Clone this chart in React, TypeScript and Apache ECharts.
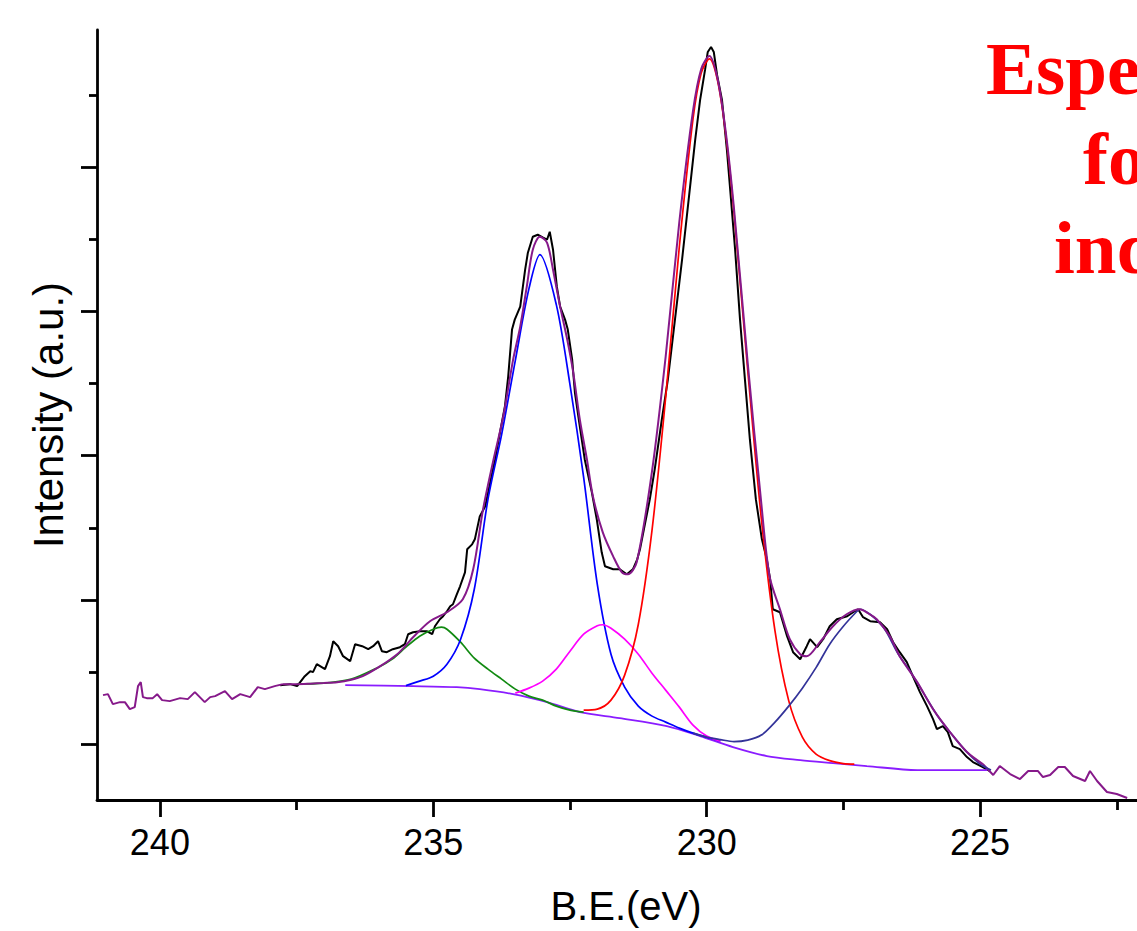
import React, { useEffect, useRef } from "react";
import * as echarts from "echarts";

// ---- axis ticks ----
const xMajorTicks = [240, 235, 230, 225];
const xMinorTicks = [237.5, 232.5, 227.5, 222.5];
const yMajorTicks = [560, 2004, 3448, 4892, 6336];
const yMinorTicks = [1282, 2726, 4170, 5614, 7058];

// ---- measured spectrum (black) ----
const rawData: [number, number][] = [
  [237.8, 1150], [237.62, 1160], [237.49, 1140], [237.35, 1240], [237.25, 1290], [237.2, 1280],
  [237.13, 1360], [237.04, 1330], [236.98, 1310], [236.89, 1440], [236.83, 1590], [236.74, 1540],
  [236.65, 1440], [236.52, 1390], [236.43, 1560], [236.3, 1540], [236.19, 1510], [236.1, 1540],
  [236.01, 1590], [235.94, 1490], [235.85, 1480], [235.74, 1510], [235.61, 1530], [235.52, 1560],
  [235.46, 1660], [235.37, 1680], [235.24, 1690], [235.12, 1690], [235.02, 1660], [234.97, 1740],
  [234.88, 1810], [234.82, 1840], [234.75, 1890], [234.69, 1940], [234.64, 1960], [234.57, 2060],
  [234.51, 2140], [234.42, 2280], [234.38, 2510], [234.29, 2560], [234.24, 2610], [234.15, 2840],
  [234.05, 2940], [233.96, 3180], [233.87, 3410], [233.78, 3680], [233.69, 3940], [233.63, 4240],
  [233.56, 4710], [233.51, 4810], [233.41, 4940], [233.32, 5310], [233.27, 5480], [233.18, 5640],
  [233.09, 5660], [232.99, 5630], [232.92, 5610], [232.87, 5690], [232.81, 5510], [232.74, 5140],
  [232.68, 4940], [232.59, 4810], [232.54, 4710], [232.46, 4410], [232.41, 4080], [232.32, 3740],
  [232.23, 3410], [232.1, 3080], [232.01, 2810], [231.92, 2480], [231.86, 2340], [231.71, 2310],
  [231.59, 2310], [231.46, 2260], [231.35, 2310], [231.27, 2410], [231.22, 2510], [231.13, 2760],
  [231.04, 3010], [230.95, 3310], [230.82, 3810], [230.71, 4210], [230.58, 4810], [230.45, 5410],
  [230.31, 6110], [230.21, 6610], [230.12, 7010], [230.03, 7310], [229.98, 7490], [229.92, 7540],
  [229.87, 7490], [229.81, 7260], [229.72, 7010], [229.63, 6510], [229.57, 6110], [229.48, 5510],
  [229.39, 4810], [229.3, 4210], [229.21, 3610], [229.1, 3010], [228.99, 2610], [228.9, 2410],
  [228.84, 2210], [228.79, 1910], [228.66, 1880], [228.53, 1640], [228.42, 1480], [228.29, 1410],
  [228.17, 1540], [228.11, 1610], [227.98, 1530], [227.87, 1610], [227.75, 1740], [227.62, 1810],
  [227.43, 1840], [227.32, 1880], [227.23, 1910], [227.14, 1830], [227.01, 1790], [226.83, 1780],
  [226.7, 1710], [226.59, 1580], [226.47, 1480], [226.34, 1380], [226.23, 1240], [226.1, 1080],
  [225.97, 940], [225.86, 810], [225.79, 710], [225.68, 740], [225.59, 680], [225.5, 540],
  [225.37, 510], [225.24, 430], [225.13, 380], [224.95, 330], [224.82, 290],
];

// ---- wide-range data outside the fit window (purple) ----
const surveyLeft: [number, number][] = [
  [241.04, 1050], [240.95, 1060], [240.86, 960], [240.73, 980], [240.64, 980], [240.55, 910],
  [240.46, 930], [240.4, 1140], [240.35, 1180], [240.31, 1030], [240.24, 1020], [240.13, 1020],
  [240.05, 1060], [239.96, 1000], [239.82, 990], [239.63, 1020], [239.49, 1010], [239.36, 1080],
  [239.18, 980], [239.08, 1030], [238.99, 1040], [238.81, 1090], [238.68, 1010], [238.53, 1060],
  [238.35, 1030], [238.21, 1130], [238.08, 1110], [237.9, 1140], [237.75, 1160],
];
const surveyRight: [number, number][] = [
  [224.95, 360], [224.76, 250], [224.64, 340], [224.45, 260], [224.27, 210], [224.12, 290],
  [223.94, 290], [223.85, 230], [223.72, 250], [223.57, 330], [223.45, 330], [223.3, 240],
  [223.08, 190], [222.99, 290], [222.86, 190], [222.68, 80], [222.5, 60], [222.31, 20],
];

// ---- fitted envelope (purple) ----
const envelope: [number, number][] = [
  [237.75, 1160], [237.5, 1160], [237.25, 1165], [237, 1172], [236.76, 1180], [236.5, 1205],
  [236.29, 1240], [235.97, 1340], [235.66, 1460], [235.5, 1550], [235.37, 1630], [235.06, 1790],
  [234.75, 1880], [234.46, 2010], [234.27, 2310], [234.09, 2910], [233.91, 3380], [233.72, 3840],
  [233.54, 4410], [233.41, 4740], [233.29, 5140], [233.18, 5510], [233.05, 5640], [232.92, 5580],
  [232.81, 5310], [232.68, 4940], [232.55, 4610], [232.44, 4280], [232.32, 3810], [232.19, 3410],
  [232.08, 3040], [231.9, 2680], [231.71, 2440], [231.55, 2280], [231.44, 2260], [231.28, 2380],
  [231, 3290], [230.75, 4440], [230.5, 5790], [230.25, 6900], [230.1, 7320], [229.95, 7450],
  [229.8, 7220], [229.65, 6685], [229.5, 5920], [229.25, 4380], [229, 2965], [228.85, 2240],
  [228.66, 1910], [228.48, 1610], [228.29, 1460], [228.17, 1440], [227.93, 1580], [227.69, 1740],
  [227.44, 1860], [227.2, 1910], [227.05, 1870], [226.89, 1810], [226.65, 1640], [226.47, 1440],
  [226.15, 1180], [225.86, 910], [225.55, 680], [225.24, 480], [224.95, 360],
];

// ---- Shirley background (violet) ----
const background: [number, number][] = [
  [236.61, 1150], [235.37, 1140], [234.57, 1130], [234.15, 1110], [233.54, 1060], [232.92, 980],
  [232.32, 880], [231.59, 820], [230.73, 740], [230.12, 640], [229.52, 530], [228.9, 440],
  [228.29, 400], [227.69, 370], [227.07, 340], [226.15, 300], [224.87, 300],
];

// ---- fitted components ----
const peakGreen: [number, number][] = [
  [237.5, 1160], [237, 1170], [236.5, 1210], [236, 1330], [235.75, 1410], [235.5, 1530],
  [235.25, 1640], [235, 1710], [234.85, 1730], [234.75, 1710], [234.5, 1580], [234.25, 1420],
  [234, 1310], [233.75, 1210], [233.5, 1110], [233.25, 1040], [233, 1000], [232.75, 940],
  [232.5, 900], [232.25, 880],
];
const peakBlue: [number, number][] = [
  [235.5, 1145], [235.25, 1190], [235, 1240], [234.75, 1360], [234.5, 1610], [234.25, 2110],
  [234, 3010], [233.75, 3660], [233.5, 4400], [233.25, 5120], [233.05, 5460], [232.75, 4960],
  [232.5, 4160], [232.25, 3230], [232, 2160], [231.75, 1460], [231.5, 1130], [231.25, 940],
  [231, 840], [230.75, 780], [230.5, 720], [230.25, 670], [230, 630], [229.75, 590],
];
const peakMagenta: [number, number][] = [
  [233.5, 1070], [233.25, 1120], [233, 1190], [232.75, 1310], [232.5, 1490], [232.25, 1660],
  [232, 1745], [231.9, 1755], [231.75, 1720], [231.5, 1610], [231.25, 1460], [231, 1270],
  [230.75, 1100], [230.5, 930], [230.25, 750], [230, 640], [229.75, 590],
];
const peakRed: [number, number][] = [
  [232.25, 900], [232, 910], [231.75, 1000], [231.5, 1250], [231.25, 1760], [231, 2700],
  [230.75, 4030], [230.5, 5540], [230.25, 6820], [230.1, 7280], [229.95, 7420], [229.8, 7200],
  [229.65, 6660], [229.5, 5880], [229.25, 4310], [229, 2815], [228.75, 1690], [228.5, 995],
  [228.25, 630], [228, 460], [227.75, 394], [227.5, 365], [227.3, 360],
];
const peakNavy: [number, number][] = [
  [230.25, 670], [230, 630], [229.75, 605], [229.5, 585], [229.25, 600], [229, 650],
  [228.75, 780], [228.5, 940], [228.25, 1120], [228, 1325], [227.75, 1560], [227.5, 1740],
  [227.25, 1890], [227.2, 1910], [227, 1855], [226.75, 1715], [226.5, 1465], [226.25, 1265],
  [226, 1040], [225.75, 820], [225.5, 645], [225.25, 485], [225, 360], [224.8, 300],
];

const SANS = "'Liberation Sans', Arial, sans-serif";
const SERIF = "'Liberation Serif', 'Times New Roman', serif";

const X_MIN = 222.13;
const X_MAX = 241.15;
const Y_MIN = 0;
const Y_MAX = 7710;

function line(name: string, data: [number, number][], color: string, smooth: number | boolean, z: number, width = 1.6) {
  return {
    name,
    type: "line",
    data,
    showSymbol: false,
    symbol: "none",
    smooth,
    z,
    lineStyle: { color, width },
    emphasis: { disabled: true },
  };
}

export default function App() {
  const ref = useRef<HTMLDivElement>(null);

  useEffect(() => {
    if (!ref.current) return;
    const chart = echarts.init(ref.current, undefined, { renderer: "svg" });
    const tickStyle = { color: "#000", width: 2.8 };
    const option = {
      animation: false,
      backgroundColor: "#ffffff",
      grid: { left: 97, right: 0, top: 30, bottom: 130, containLabel: false },
      xAxis: [
        {
          type: "value",
          position: "bottom",
          min: X_MIN,
          max: X_MAX,
          inverse: true,
          name: "B.E.(eV)",
          nameLocation: "middle",
          nameGap: 86,
          nameTextStyle: { fontFamily: SANS, fontSize: 40, color: "#000", padding: [0, 0, 0, 18] },
          axisLine: { show: true, onZero: false, lineStyle: tickStyle },
          axisTick: { show: true, customValues: xMajorTicks, length: 17, lineStyle: tickStyle },
          axisLabel: { show: true, customValues: xMajorTicks, margin: 24, fontSize: 36, fontFamily: SANS, color: "#000" },
          splitLine: { show: false },
        },
        {
          type: "value",
          position: "bottom",
          min: X_MIN,
          max: X_MAX,
          inverse: true,
          axisLine: { show: false, onZero: false },
          axisTick: { show: true, customValues: xMinorTicks, length: 10, lineStyle: tickStyle },
          axisLabel: { show: false },
          splitLine: { show: false },
        },
      ],
      yAxis: [
        {
          type: "value",
          position: "left",
          min: Y_MIN,
          max: Y_MAX,
          name: "Intensity (a.u.)",
          nameLocation: "middle",
          nameRotate: 90,
          nameGap: 28,
          nameTextStyle: { fontFamily: SANS, fontSize: 42, color: "#000" },
          axisLine: { show: true, onZero: false, lineStyle: tickStyle },
          axisTick: { show: true, customValues: yMajorTicks, length: 16, lineStyle: tickStyle },
          axisLabel: { show: false },
          splitLine: { show: false },
        },
        {
          type: "value",
          position: "left",
          min: Y_MIN,
          max: Y_MAX,
          axisLine: { show: false, onZero: false },
          axisTick: { show: true, customValues: yMinorTicks, length: 8, lineStyle: tickStyle },
          axisLabel: { show: false },
          splitLine: { show: false },
        },
      ],
      series: [
        line("Measured", rawData, "#000000", false, 2, 2),
        line("Survey (high BE side)", surveyLeft, "#86198a", false, 3, 2),
        line("Survey (low BE side)", surveyRight, "#86198a", false, 3, 2),
        line("Background", background, "#8a1cff", 0.3, 4, 1.8),
        line("Peak 234.9 eV", peakGreen, "#118a11", 0.3, 5, 1.7),
        line("Peak 233.1 eV", peakBlue, "#0000ff", 0.3, 5, 1.7),
        line("Peak 231.9 eV", peakMagenta, "#ff00ff", 0.3, 5, 1.7),
        line("Peak 230.0 eV", peakRed, "#ff0000", 0.3, 5, 1.7),
        line("Peak 227.2 eV", peakNavy, "#333399", 0.3, 5, 1.7),
        line("Envelope", envelope, "#86198a", 0.3, 6, 2),
      ],
      graphic: [
        { type: "text", x: 986, y: 68, z: 10, style: { text: "Espe", font: `bold 75px ${SERIF}`, fill: "#ff0000", align: "left", verticalAlign: "middle" } },
        { type: "text", x: 1083, y: 158, z: 10, style: { text: "fo", font: `bold 75px ${SERIF}`, fill: "#ff0000", align: "left", verticalAlign: "middle" } },
        { type: "text", x: 1054, y: 247, z: 10, style: { text: "ind", font: `bold 75px ${SERIF}`, fill: "#ff0000", align: "left", verticalAlign: "middle" } },
      ],
    };
    chart.setOption(option as any);
    return () => {
      chart.dispose();
    };
  }, []);

  return (
    <div
      ref={ref}
      style={{ position: "fixed", left: 0, top: 0, width: 1137, height: 931, background: "#fff" }}
    />
  );
}
